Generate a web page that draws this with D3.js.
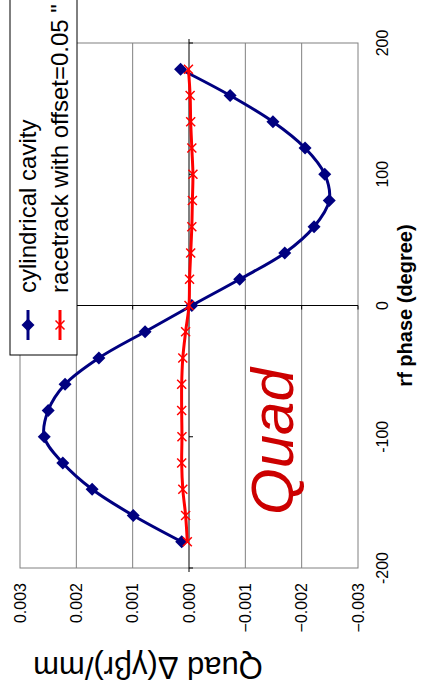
<!DOCTYPE html>
<html>
<head>
<meta charset="utf-8">
<script src="https://cdn.jsdelivr.net/npm/d3@7"></script>
<style>
body { margin: 0; background: #fff; }
svg { display: block; font-family: 'Liberation Sans', Arial, sans-serif; }
</style>
</head>
<body>
<svg id="chart"></svg>
<script>
const phases = [-180, -160, -140, -120, -100, -80, -60, -40, -20, 0, 20, 40, 60, 80, 100, 120, 140, 160, 180]
const cylindrical = [0.00013, 0.00099, 0.00172, 0.00224, 0.00257, 0.00250, 0.00220, 0.00160, 0.00078, -0.00005,
	-0.00090, -0.00170, -0.00222, -0.00249, -0.00241, -0.00206, -0.00149, -0.00073, 0.00015]
const racetrack = [0.00003, 0.00006, 0.00011, 0.00013, 0.000125, 0.00013, 0.00013, 0.00011, 0.00006, 0.0,
	-0.00001, -0.00003, -0.00005, -0.00006, -0.00007, -0.00005, -0.00003, -0.00002, 0.00001]
const seriesNames = ['cylindrical cavity', 'racetrack with offset=0.05 "']
const phaseTicks = [-200, -100, 0, 100, 200]
const quadTicks = [0.003, 0.002, 0.001, 0, -0.001, -0.002, -0.003]

const PAGE_W = 424
const PAGE_H = 697

const svg = d3.select('#chart')
	.attr('width', PAGE_W)
	.attr('height', PAGE_H)

// the chart is laid out unrotated and then turned a quarter left
const g = svg.append('g')
	.attr('transform', `translate(0,${PAGE_H}) rotate(-90)`)

const x = d3.scaleLinear().domain([-200, 200]).range([129, 654])
const y = d3.scaleLinear().domain([-0.003, 0.003]).range([358, 20])

const fmt = d3.format('.3f')

function diamond(s) {
	return `M0,${-s}L${s},0L0,${s}L${-s},0Z`
}

function cross(s) {
	return `M${-s},${-s}L${s},${s}M${-s},${s}L${s},${-s}`
}

function drawGrid() {
	g.append('rect')
		.attr('x', x(-200))
		.attr('y', y(0.003))
		.attr('width', x(200) - x(-200))
		.attr('height', y(-0.003) - y(0.003))
		.attr('fill', '#fff')
		.attr('stroke', '#808080')

	g.selectAll('.grid')
		.data(quadTicks.filter(d => d !== 0 && Math.abs(d) < 0.003))
		.join('line')
			.attr('class', 'grid')
			.attr('x1', x(-200))
			.attr('x2', x(200))
			.attr('y1', d => y(d))
			.attr('y2', d => y(d))
			.attr('stroke', '#808080')
}

function drawAxes() {
	// value axis sits at phase 0
	g.append('line')
		.attr('x1', x(0)).attr('x2', x(0))
		.attr('y1', y(0.003)).attr('y2', y(-0.003))
		.attr('stroke', '#000')
	g.selectAll('.ytick')
		.data(quadTicks)
		.join('line')
			.attr('class', 'ytick')
			.attr('x1', x(0) - 4).attr('x2', x(0))
			.attr('y1', d => y(d)).attr('y2', d => y(d))
			.attr('stroke', '#000')

	// phase axis sits at value 0
	g.append('line')
		.attr('x1', x(-200) - 4).attr('x2', x(200) + 4)
		.attr('y1', y(0)).attr('y2', y(0))
		.attr('stroke', '#000')
	g.selectAll('.xtick')
		.data(phaseTicks)
		.join('line')
			.attr('class', 'xtick')
			.attr('x1', d => x(d)).attr('x2', d => x(d))
			.attr('y1', y(0)).attr('y2', y(0) + 4)
			.attr('stroke', '#000')

	g.selectAll('.ylabel')
		.data(quadTicks)
		.join('text')
			.attr('class', 'ylabel')
			.attr('x', x(-200) - 15)
			.attr('y', d => y(d))
			.attr('dy', '0.35em')
			.attr('text-anchor', 'end')
			.attr('font-size', 16)
			.text(d => fmt(d))

	g.selectAll('.xlabel')
		.data(phaseTicks)
		.join('text')
			.attr('class', 'xlabel')
			.attr('x', d => x(d))
			.attr('y', 388)
			.attr('text-anchor', 'middle')
			.attr('font-size', 16)
			.text(d => d)

	g.append('text')
		.attr('x', x(0))
		.attr('y', 412)
		.attr('text-anchor', 'middle')
		.attr('font-size', 20)
		.attr('font-weight', 'bold')
		.text('rf phase (degree)')

	g.append('text')
		.attr('transform', `translate(40,${(y(0.003) + y(-0.003)) / 2 - 41}) rotate(-90)`)
		.attr('text-anchor', 'middle')
		.attr('font-size', 31)
		.text('Quad \u0394(\u03b3\u03b2r)/mm')
}

function drawSeries() {
	const line = d3.line()
		.x(d => x(d[0]))
		.y(d => y(d[1]))
		.curve(d3.curveCatmullRom)

	const cyl = phases.map((p, i) => [p, cylindrical[i]])
	const race = phases.map((p, i) => [p, racetrack[i]])

	g.append('path')
		.datum(cyl)
		.attr('d', line)
		.attr('fill', 'none')
		.attr('stroke', '#000080')
		.attr('stroke-width', 3)

	g.selectAll('.dia')
		.data(cyl)
		.join('path')
			.attr('class', 'dia')
			.attr('transform', d => `translate(${x(d[0])},${y(d[1])})`)
			.attr('d', diamond(6.5))
			.attr('fill', '#000080')

	g.append('path')
		.datum(race)
		.attr('d', line)
		.attr('fill', 'none')
		.attr('stroke', '#ff0000')
		.attr('stroke-width', 3)

	g.selectAll('.crs')
		.data(race)
		.join('path')
			.attr('class', 'crs')
			.attr('transform', d => `translate(${x(d[0])},${y(d[1])})`)
			.attr('d', cross(4.5))
			.attr('stroke', '#ff0000')
			.attr('stroke-width', 1.5)

	g.append('text')
		.attr('x', 182)
		.attr('y', 293)
		.attr('font-size', 60)
		.attr('font-style', 'italic')
		.attr('fill', '#cc0000')
		.text('Quad')
}

function drawLegend() {
	const lg = g.append('g')
	lg.append('rect')
		.attr('x', 342)
		.attr('y', 10)
		.attr('width', 400)
		.attr('height', 67)
		.attr('fill', '#fff')
		.attr('stroke', '#000')

	const rows = [28, 60]
	const colors = ['#000080', '#ff0000']
	seriesNames.forEach((name, i) => {
		lg.append('line')
			.attr('x1', 357).attr('x2', 387)
			.attr('y1', rows[i]).attr('y2', rows[i])
			.attr('stroke', colors[i])
			.attr('stroke-width', 3)
		lg.append('path')
			.attr('transform', `translate(372,${rows[i]})`)
			.attr('d', i ? cross(4.5) : diamond(6.5))
			.attr('fill', i ? 'none' : colors[i])
			.attr('stroke', i ? colors[i] : 'none')
			.attr('stroke-width', 1.5)
		lg.append('text')
			.attr('x', 404)
			.attr('y', rows[i])
			.attr('dy', '0.35em')
			.attr('font-size', 24)
			.text(name)
	})
}

drawGrid()
drawAxes()
drawSeries()
drawLegend()
</script>
</body>
</html>
